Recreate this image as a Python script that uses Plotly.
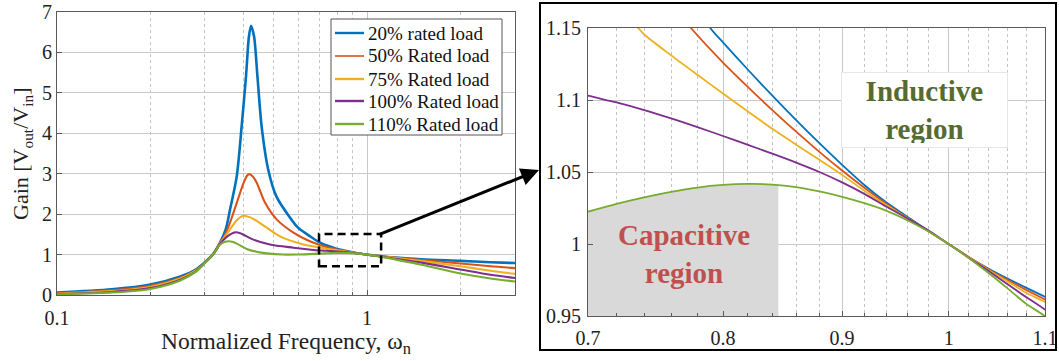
import numpy as np
import plotly.graph_objects as go

W, H = 1059, 361

# ---------------- data ----------------
names = ["20% rated load", "50% Rated load", "75% Rated load", "100% Rated load", "110% Rated load"]
colors = ["#0072BD", "#D95319", "#EDB120", "#7E2F8E", "#77AC30"]

x20 = [0.10, 0.15, 0.20, 0.25, 0.28, 0.30, 0.32, 0.336, 0.35, 0.3614, 0.38, 0.394, 0.407, 0.416, 0.4225,
       0.432, 0.443, 0.457, 0.48, 0.51, 0.56, 0.60, 0.65, 0.70, 0.75, 0.79, 0.80, 0.82, 0.84, 0.86, 0.88,
       0.90, 0.92, 0.94, 0.96, 0.98, 1.00, 1.02, 1.04, 1.06, 1.08, 1.10, 1.20, 1.50, 2.00, 2.50, 3.00]
y20 = [0.06, 0.14, 0.26, 0.46, 0.63, 0.81, 1.03, 1.30, 1.62, 2.11, 2.94, 4.17, 5.41, 6.40, 6.66,
       6.40, 5.41, 4.17, 3.10, 2.44, 1.95, 1.66, 1.47, 1.31, 1.21, 1.150, 1.140, 1.121, 1.103, 1.086, 1.070,
       1.055, 1.041, 1.029, 1.019, 1.009, 1.000, 0.991, 0.983, 0.976, 0.9695, 0.9633, 0.935, 0.885, 0.845, 0.81, 0.79]

x50 = [0.10, 0.15, 0.20, 0.25, 0.28, 0.30, 0.32, 0.336, 0.344, 0.361, 0.38, 0.40, 0.41, 0.417, 0.428, 0.441,
       0.469, 0.511, 0.579, 0.64, 0.70, 0.74, 0.775, 0.80, 0.82, 0.84, 0.86, 0.88, 0.90, 0.92, 0.94, 0.96,
       0.98, 1.00, 1.02, 1.04, 1.06, 1.08, 1.10, 1.20, 1.50, 2.00, 2.50, 3.00]
y50 = [0.045, 0.115, 0.23, 0.43, 0.61, 0.81, 1.03, 1.30, 1.40, 1.78, 2.28, 2.78, 2.95, 2.99, 2.93, 2.77,
       2.28, 1.87, 1.54, 1.36, 1.245, 1.19, 1.150, 1.126, 1.109, 1.093, 1.078, 1.064, 1.051, 1.039, 1.028, 1.018,
       1.009, 1.000, 0.991, 0.9825, 0.975, 0.968, 0.9614, 0.93, 0.865, 0.78, 0.71, 0.665]

x75 = [0.10, 0.15, 0.20, 0.25, 0.28, 0.30, 0.32, 0.336, 0.361, 0.38, 0.399, 0.42, 0.452, 0.524, 0.623, 0.70,
       0.7357, 0.74, 0.76, 0.78, 0.80, 0.82, 0.84, 0.86, 0.88, 0.90, 0.92, 0.94, 0.96, 0.98, 1.00, 1.02,
       1.04, 1.06, 1.08, 1.10, 1.20, 1.50, 2.00, 2.50, 3.00]
y75 = [0.035, 0.095, 0.20, 0.41, 0.60, 0.80, 1.02, 1.28, 1.62, 1.85, 1.96, 1.92, 1.78, 1.45, 1.25, 1.18,
       1.150, 1.1455, 1.131, 1.1175, 1.1045, 1.092, 1.080, 1.069, 1.0585, 1.048, 1.037, 1.027, 1.018, 1.009, 1.000, 0.9908,
       0.982, 0.974, 0.966, 0.9598, 0.925, 0.84, 0.71, 0.60, 0.525]

x100 = [0.10, 0.15, 0.20, 0.25, 0.28, 0.30, 0.32, 0.336, 0.348, 0.362, 0.375, 0.39, 0.40, 0.43, 0.486, 0.579,
        0.65, 0.68, 0.70, 0.72, 0.74, 0.76, 0.78, 0.80, 0.82, 0.84, 0.86, 0.88, 0.90, 0.92, 0.94, 0.96, 0.98,
        1.00, 1.02, 1.04, 1.06, 1.08, 1.10, 1.20, 1.50, 2.00, 2.50, 3.00]
y100 = [0.028, 0.075, 0.17, 0.38, 0.58, 0.80, 1.02, 1.27, 1.40, 1.50, 1.55, 1.53, 1.49, 1.37, 1.25, 1.17,
        1.125, 1.1085, 1.103, 1.0983, 1.093, 1.0872, 1.0812, 1.075, 1.0688, 1.0627, 1.0565, 1.050, 1.0428, 1.0348, 1.026, 1.0178, 1.0095,
        1.000, 0.9905, 0.9814, 0.9721, 0.963, 0.9545, 0.91, 0.80, 0.63, 0.50, 0.42]

x110 = [0.10, 0.15, 0.20, 0.25, 0.28, 0.30, 0.32, 0.336, 0.347, 0.357, 0.37, 0.38, 0.409, 0.44, 0.475, 0.537,
        0.60, 0.65, 0.70, 0.72, 0.74, 0.76, 0.78, 0.80, 0.82, 0.84, 0.86, 0.88, 0.90, 0.92, 0.94, 0.96,
        0.98, 1.00, 1.02, 1.04, 1.06, 1.08, 1.10, 1.20, 1.50, 2.00, 2.50, 3.00]
y110 = [0.02, 0.06, 0.15, 0.36, 0.57, 0.79, 1.02, 1.25, 1.31, 1.33, 1.31, 1.27, 1.14, 1.07, 1.03, 1.00,
        1.003, 1.012, 1.0225, 1.0278, 1.0323, 1.0362, 1.0392, 1.041, 1.0417, 1.0413, 1.0395, 1.0365, 1.0328, 1.0284, 1.0232, 1.0165,
        1.0088, 1.000, 0.9903, 0.980, 0.9692, 0.9583, 0.9498, 0.895, 0.75, 0.53, 0.41, 0.335]

series_x = [x20, x50, x75, x100, x110]
series_y = [y20, y50, y75, y100, y110]

# axis ticks
left_xticks = [0.1, 1]
left_xticktext = ["0.1", "1"]
left_xminor = [0.2, 0.3, 0.4, 0.5, 0.6, 0.7, 0.8, 0.9, 2, 3]
left_yticks = [0, 1, 2, 3, 4, 5, 6, 7]
right_xticks = [0.7, 0.8, 0.9, 1.0, 1.1]
right_xticktext = ["0.7", "0.8", "0.9", "1", "1.1"]
right_xminor = [0.72, 0.74, 0.76, 0.78, 0.82, 0.84, 0.86, 0.88, 0.92, 0.94, 0.96, 0.98, 1.02, 1.04, 1.06, 1.08]
right_yticks = [0.95, 1.0, 1.05, 1.1, 1.15]
right_yticktext = ["0.95", "1", "1.05", "1.1", "1.15"]

zoom_box = dict(x0=0.7, x1=1.11, y0=0.71, y1=1.51)
cap_x_end = 0.845
cap_y_bottom = 0.95

# ---------------- figure ----------------
FONT = "Liberation Serif, Times New Roman, serif"
fig = go.Figure()


def px_x(p):
    return p / W


def px_y(p):
    return 1 - p / H


# capacitive region fill (below the 110% curve)
gx = [x for x in x110 if 0.7 <= x <= cap_x_end]
gy = [y for x, y in zip(x110, y110) if 0.7 <= x <= cap_x_end]
g_end = float(np.interp(np.log10(cap_x_end), np.log10(x110), y110))
fx = gx + [cap_x_end, cap_x_end, 0.7, 0.7]
fy = gy + [g_end, cap_y_bottom, cap_y_bottom, gy[0]]
fig.add_trace(go.Scatter(x=fx, y=fy, xaxis="x2", yaxis="y2", mode="lines", fill="toself",
                         fillcolor="#d9d9d9", line=dict(width=0), showlegend=False, hoverinfo="skip"))

widths_left = [2.6, 2.1, 2.1, 2.1, 2.1]
for i in range(5):
    fig.add_trace(go.Scatter(x=series_x[i], y=series_y[i], name=names[i], mode="lines",
                             line=dict(color=colors[i], width=widths_left[i], shape="spline", smoothing=0.8),
                             xaxis="x", yaxis="y", showlegend=False))
for i in range(5):
    fig.add_trace(go.Scatter(x=series_x[i], y=series_y[i], name=names[i], mode="lines",
                             line=dict(color=colors[i], width=1.8, shape="spline", smoothing=0.8),
                             xaxis="x2", yaxis="y2", showlegend=False))

tickfont = dict(family=FONT, size=20, color="#222")
grid_major = "#c9c9c9"
grid_minor = "#c4c4c4"
axline = "#5a5a5a"

common = dict(showgrid=True, gridcolor=grid_major, gridwidth=1, ticks="inside", ticklen=5, tickcolor=axline,
              showline=True, linecolor=axline, linewidth=1, mirror=True, tickfont=tickfont,
              zeroline=False, automargin=False, fixedrange=True)

fig.update_layout(
    template="none",
    width=W, height=H, margin=dict(l=0, r=0, t=0, b=0, autoexpand=False),
    paper_bgcolor="white", plot_bgcolor="white",
    font=dict(family=FONT, size=20, color="#222"),
    showlegend=False,
    xaxis=dict(domain=[px_x(57), px_x(515)], type="log", range=[-1, np.log10(3)], anchor="y",
               tickmode="array", tickvals=left_xticks, ticktext=left_xticktext, ticklabelstandoff=5,
               minor=dict(tickmode="array", tickvals=left_xminor, showgrid=True, gridcolor=grid_minor,
                          griddash="dot", gridwidth=1, ticks="inside", ticklen=3, tickcolor=axline),
               **common),
    yaxis=dict(domain=[px_y(295), px_y(12)], range=[0, 7], anchor="x", tickmode="array", tickvals=left_yticks,
               **common),
    xaxis2=dict(domain=[px_x(588), px_x(1045)], type="log", range=[np.log10(0.7), np.log10(1.1)],
                anchor="y2", tickmode="array", tickvals=right_xticks, ticktext=right_xticktext,
                ticklabelstandoff=4,
                minor=dict(tickmode="array", tickvals=right_xminor, showgrid=True, gridcolor=grid_minor,
                           griddash="dot", gridwidth=1, ticks="inside", ticklen=3, tickcolor=axline),
                **common),
    yaxis2=dict(domain=[px_y(316), px_y(28)], range=[0.95, 1.15], anchor="x2",
                tickmode="array", tickvals=right_yticks, ticktext=right_yticktext, ticklabelstandoff=2,
                **common),
)

# dashed zoom box on the left plot
fig.add_shape(type="rect", xref="x", yref="y", x0=zoom_box["x0"], x1=zoom_box["x1"],
              y0=zoom_box["y0"], y1=zoom_box["y1"], line=dict(color="black", width=2.5, dash="8px,5px"))
# frame around the zoomed plot
fig.add_shape(type="rect", xref="paper", yref="paper", x0=px_x(540), x1=px_x(1056),
              y0=px_y(350), y1=px_y(3), line=dict(color="black", width=2))

# legend (box, line samples, labels)
leg_left, leg_right, leg_top, leg_bottom = 331, 502, 19, 135
leg_rows = [33, 56, 79, 101, 124]
fig.add_shape(type="rect", xref="paper", yref="paper", x0=px_x(leg_left), x1=px_x(leg_right),
              y0=px_y(leg_bottom), y1=px_y(leg_top), line=dict(color="#555", width=1), fillcolor="white",
              layer="above")
for i in range(5):
    fig.add_shape(type="line", xref="paper", yref="paper", x0=px_x(335), x1=px_x(364),
                  y0=px_y(leg_rows[i]), y1=px_y(leg_rows[i]),
                  line=dict(color=colors[i], width=2.4 if i != 1 else 1.6), layer="above")
    fig.add_annotation(x=px_x(366), y=px_y(leg_rows[i]), xref="paper", yref="paper", showarrow=False,
                       xanchor="left", yanchor="middle", text=names[i],
                       font=dict(family=FONT, size=19, color="#111"))

# arrow from the zoom box to the zoomed plot
fig.add_annotation(x=px_x(539), y=px_y(170), xref="paper", yref="paper", text="",
                   showarrow=True, arrowhead=2, arrowsize=1.2, arrowwidth=3, arrowcolor="black",
                   ax=378 - 539, ay=235 - 170, axref="pixel", ayref="pixel", standoff=0, startstandoff=0)

# axis titles
fig.add_annotation(x=px_x(286), y=px_y(343), xref="paper", yref="paper", showarrow=False,
                   xanchor="center", yanchor="middle",
                   text="Normalized Frequency, ω<sub>n</sub>", font=dict(family=FONT, size=23.5, color="#222"))
fig.add_annotation(x=px_x(22), y=px_y(154), xref="paper", yref="paper", showarrow=False, textangle=-90,
                   xanchor="center", yanchor="middle",
                   text="Gain [V<sub>out</sub>/V<sub>in</sub>]", font=dict(family=FONT, size=22, color="#222"))

# region labels
fig.add_annotation(x=px_x(924), y=px_y(110), xref="paper", yref="paper", showarrow=False,
                   xanchor="center", yanchor="middle", width=157, height=66,
                   text="<b>Inductive<br>region</b>", font=dict(family=FONT, size=29, color="#556b2f"),
                   bgcolor="white", bordercolor="#e6e6e6", borderwidth=1, borderpad=4)
fig.add_annotation(x=px_x(684), y=px_y(254), xref="paper", yref="paper", showarrow=False,
                   xanchor="center", yanchor="middle",
                   text="<b>Capacitive<br>region</b>", font=dict(family=FONT, size=29, color="#c0504d"))

fig.write_html("out.html")
